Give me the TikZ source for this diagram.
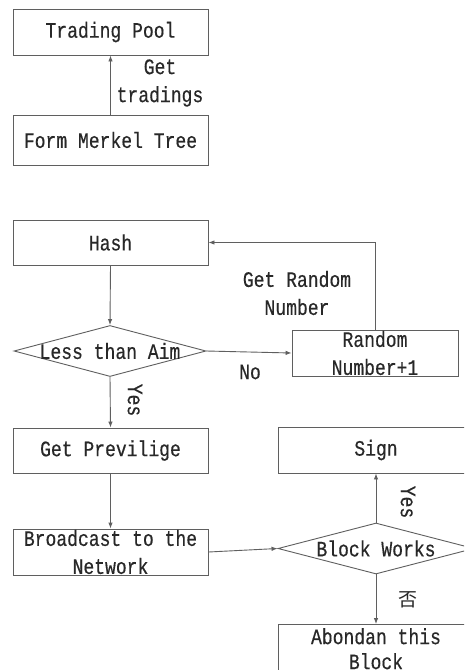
\documentclass[tikz,border=0pt]{standalone}
\usepackage{fontspec}
\usetikzlibrary{shapes.geometric,arrows.meta}
\newfontfamily\monofont[FakeStretch=0.82,FakeBold=0.4]{Liberation Mono}
\newfontfamily\cjkfont{Noto Sans CJK SC}
\definecolor{linec}{RGB}{95,95,95}
\definecolor{textc}{RGB}{40,40,40}
\begin{document}
\begin{tikzpicture}[x=1pt,y=-1pt,
  every node/.style={font=\monofont\fontsize{22}{28}\selectfont, text=textc},
  box/.style={draw=linec, line width=0.9pt, rectangle, inner sep=0pt, minimum width=195pt, align=center},
  dia/.style={draw=linec, line width=0.9pt, diamond, inner sep=0pt},
  conn/.style={draw=linec, line width=0.9pt, -{Latex[length=6pt,width=4.5pt]}},
  lbl/.style={inner sep=0pt, align=center}]
\useasboundingbox (0,0) rectangle (464,670);
\clip (0,0) rectangle (464,670);
\fill[white] (0,0) rectangle (464,670);
\node[box, minimum height=46pt] (tp) at (110.5,32) {Trading Pool};
\node[box, minimum height=50pt] (mt) at (110.5,140) {Form Merkel Tree};
\node[box, minimum height=45pt] (hash) at (110.5,242.5) {Hash};
\node[dia, minimum width=192pt, minimum height=51pt] (aim) at (110,351) {\makebox[0pt]{Less than Aim}};
\node[box, minimum width=166pt, minimum height=46pt] (rn) at (375,353) {Random\\Number+1};
\node[box, minimum height=45pt] (gp) at (110.5,450.5) {Get Previlige};
\node[box, minimum height=46pt] (bc) at (110.5,552) {Broadcast to the\\Network};
\node[box, minimum width=196pt, minimum height=46pt] (sign) at (376,450) {Sign};
\node[dia, minimum width=196pt, minimum height=51pt] (bw) at (376,548.5) {\makebox[0pt]{Block Works}};
\node[box, minimum width=196pt, minimum height=52pt] (ab) at (376,651) {\raisebox{5pt}{\begin{tabular}{@{}c@{}}Abondan this\\[-3pt]Block\end{tabular}}};

\draw[conn] (mt.north) -- (tp.south);
\node[lbl] (l1) at (160,83) {Get\\tradings};
\draw[conn] (hash.south) -- (aim.north);
\draw[conn] (aim.east) -- (rn.west);
\node[lbl] (l2) at (250,372) {No};
\draw[conn] (rn.north) |- (hash.east);
\node[lbl] (l3) at (297,293) {Get Random\\Number};
\draw[conn] (aim.south) -- (gp.north);
\node[lbl, rotate=-90] (l4) at (135,400) {Yes};
\draw[conn] (gp.south) -- (bc.north);
\draw[conn] (bc.east) -- (bw.west);
\draw[conn] (bw.north) -- (sign.south);
\node[lbl, rotate=-90] (l5) at (408,502) {Yes};
\draw[conn] (bw.south) -- (ab.north);
\node[lbl, font=\cjkfont\fontsize{19}{24}\selectfont] (l6) at (408,600) {否};
\end{tikzpicture}
\end{document}
